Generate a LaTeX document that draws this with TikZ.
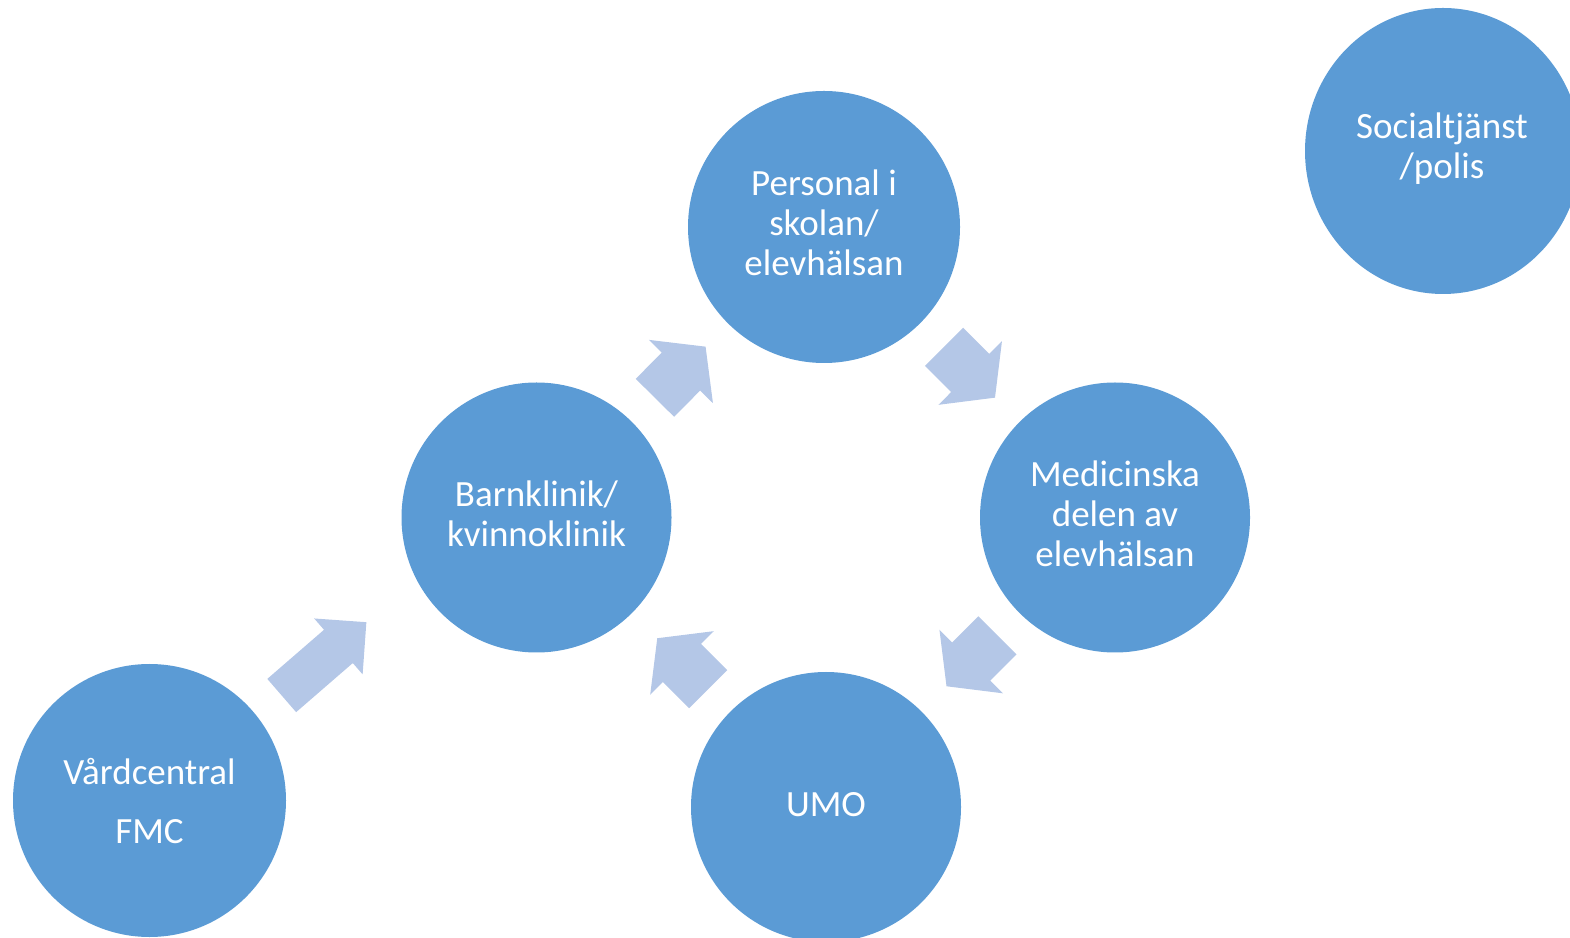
\documentclass[tikz,border=0pt]{standalone}
\usepackage{fontspec}
\setmainfont{Carlito}
\usetikzlibrary{calc,shapes.geometric}
\definecolor{circfill}{HTML}{5B9BD5}
\definecolor{arrowfill}{HTML}{B4C7E7}
\tikzset{
  bubble/.style={circle, fill=circfill, draw=none, inner sep=0pt},
  btext/.style={inner sep=0pt, text=white, align=center, font=\fontsize{37}{40}\selectfont},
  arrowB/.pic={\fill[arrowfill] (-36,-27) -- (1,-27) -- (1,-45) -- (36,0) -- (1,45) -- (1,27) -- (-36,27) -- cycle;},
  arrowA/.pic={\fill[arrowfill] (-56,-22) -- (19,-22) -- (19,-37) -- (56,0) -- (19,37) -- (19,22) -- (-56,22) -- cycle;}
}
\begin{document}
\begin{tikzpicture}[x=1pt,y=1pt]
\useasboundingbox (0,0) rectangle (1570,937);
\clip (0,0) rectangle (1570,937);
\node[bubble, minimum size=272] (pers) at (824,710) {};
\node[bubble, minimum size=270] (barn) at (536.5,419.5) {};
\node[bubble, minimum size=270] (med) at (1115,419.5) {};
\node[bubble, minimum size=270] (umo) at (826,130) {};
\node[bubble, minimum size=273] (vard) at (149.5,136.5) {};
\node[bubble, ellipse, minimum width=276, minimum height=286] (soc) at (1443,786) {};
\node[btext] (pers-t) at ([yshift=4]pers.center) {Personal i\\skolan/\\elevhälsan};
\node[btext] (barn-t) at ([yshift=4]barn.center) {Barnklinik/\\kvinnoklinik};
\node[btext] (med-t) at ([yshift=4]med.center) {Medicinska\\delen av\\elevhälsan};
\node[btext] (umo-t) at ([yshift=2]umo.center) {UMO};
\node[btext] (vard-t) at ([yshift=-1]vard.center) {Vårdcentral\\[19pt]FMC};
\node[btext] (soc-t) at ([yshift=2,xshift=-1]soc.center) {Socialtjänst\\/polis};
\pic[rotate=40.9] at ($(vard.center)!0.451!(barn.center)+(0,14)$) {arrowA};
\pic[rotate=45.3] at ($(barn.center)!0.5!(pers.center)$) {arrowB};
\pic[rotate=-44.9] at ($(pers.center)!0.5!(med.center)$) {arrowB};
\pic[rotate=-135] at ($(med.center)!0.495!(umo.center)$) {arrowB};
\pic[rotate=135] at ($(umo.center)!0.495!(barn.center)$) {arrowB};
\end{tikzpicture}
\end{document}
